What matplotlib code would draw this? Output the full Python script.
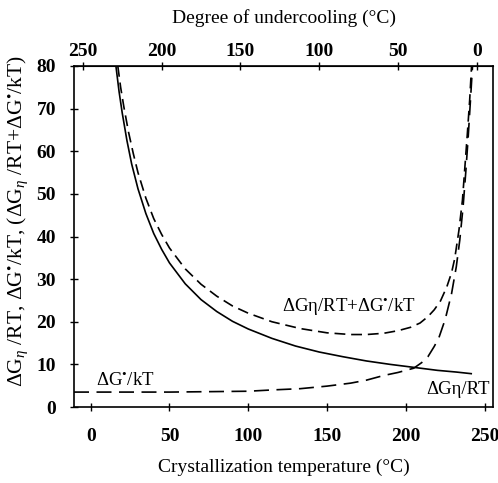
import matplotlib
matplotlib.use("Agg")
import matplotlib.pyplot as plt

plt.rcParams["font.family"] = ["Liberation Serif", "DejaVu Serif"]
plt.rcParams["mathtext.fontset"] = "custom"
plt.rcParams["mathtext.rm"] = "Liberation Serif"
plt.rcParams["mathtext.it"] = "Liberation Serif:italic"
plt.rcParams["mathtext.bf"] = "Liberation Serif:bold"

# Melting point used for the undercooling scale (°C)
T_MELT = 245.0

# Viscous-flow term dGn/RT
temp_eta = [16, 18, 20, 23, 26, 30, 35, 40, 45, 50, 60, 70, 80, 90, 100,
            115, 130, 145, 160, 175, 190, 205, 220, 232, 242]
val_eta = [80.0, 74.0, 69.0, 62.5, 57.0, 51.2, 45.4, 40.7, 37.0, 33.8, 28.9,
           25.2, 22.4, 20.1, 18.3, 16.1, 14.3, 12.9, 11.8, 10.8, 10.0, 9.3,
           8.6, 8.2, 7.8]

# Nucleation barrier term dG*/kT
temp_nuc = [-10.6, 0, 25, 50, 75, 100, 115, 133, 150, 165, 175, 186, 195,
            205, 210, 214, 218, 221, 225, 229, 232, 234.2, 236.3, 238,
            239.5, 241, 242.3]
val_nuc = [3.5, 3.5, 3.5, 3.5, 3.6, 3.7, 4.0, 4.3, 4.9, 5.6, 6.3, 7.4, 8.1,
           9.1, 10.4, 11.8, 14.2, 16.3, 20.6, 26.6, 32.9, 39.1, 46.9, 55.0,
           63.0, 72.0, 80.0]

# Sum of both terms
temp_sum = [17.2, 19, 21, 24, 27, 30, 35, 40, 45, 50, 60, 70, 80, 90, 100,
            115, 133, 150, 165, 175, 186, 195, 203, 209, 214, 218, 222, 226,
            229, 231, 233.7, 235.9, 237.5, 239, 240.5, 241.7]
val_sum = [80.0, 75.0, 70.5, 64.5, 59.5, 55.0, 49.0, 44.2, 40.5, 37.3, 32.4,
           28.8, 26.0, 23.7, 22.0, 20.0, 18.4, 17.4, 17.0, 17.0, 17.3, 17.9,
           18.7, 19.7, 21.2, 22.8, 24.9, 28.2, 31.5, 34.8, 41.5, 48.5, 56.5,
           64.0, 72.0, 80.0]

x_ticks = [0, 50, 100, 150, 200, 250]
y_ticks = [0, 10, 20, 30, 40, 50, 60, 70, 80]
top_ticks = [250, 200, 150, 100, 50, 0]

STAR = r"$^{\mathrm{•}}$"

fig = plt.figure(figsize=(4.98, 4.83), dpi=100)
ax = fig.add_axes([74 / 498, 1 - 407 / 483, (493 - 74) / 498, (407 - 66) / 483])

ax.plot(temp_eta, val_eta, color="black", lw=1.2, solid_capstyle="butt")
ax.plot(temp_sum, val_sum, color="black", lw=1.2, linestyle=(0, (6.5, 3.5)))
ax.plot(temp_nuc, val_nuc, color="black", lw=1.2, linestyle=(0, (9, 4.5)))

ax.set_xlim(-10.6, 255.3)
ax.set_ylim(0, 80)
ax.set_xticks(x_ticks)
ax.set_yticks(y_ticks)

for s in ax.spines.values():
    s.set_linewidth(1.2)

ax.tick_params(axis="x", direction="inout", length=6, width=1, pad=12,
               labelsize=14)
ax.tick_params(axis="y", direction="inout", length=6, width=1, pad=10,
               labelsize=14)
for lab in ax.get_xticklabels() + ax.get_yticklabels():
    lab.set_fontweight("bold")

sec = ax.secondary_xaxis("top", functions=(lambda t: T_MELT - t,
                                           lambda u: T_MELT - u))
sec.set_xticks(top_ticks)
sec.tick_params(direction="inout", length=6, width=1, pad=1.5, labelsize=14)
for lab in sec.get_xticklabels():
    lab.set_fontweight("bold")
sec.set_xlabel("Degree of undercooling (°C)", fontsize=14, labelpad=14)

ax.set_xlabel("Crystallization temperature (°C)", fontsize=14)
ax.xaxis.set_label_coords(0.5, -0.153)
ax.xaxis.label.set_va("top")

ax.set_ylabel("ΔG$_\\eta$ /RT, ΔG" + STAR + "/kT, (ΔG$_\\eta$ /RT+ΔG" + STAR + "/kT)",
              fontsize=15.5)
ax.yaxis.set_label_coords(-0.105, 0.545)

ax.text(121.3, 23.6, "ΔGη/RT+ΔG" + STAR + "/kT", fontsize=13.5,
        ha="left", va="center")
ax.text(3.4, 6.3, "ΔG" + STAR + "/kT", fontsize=13.5, ha="left", va="center")
ax.text(253.2, 4.2, "ΔGη/RT", fontsize=13.5, ha="right", va="center")

fig.savefig("out.png", dpi=100)
